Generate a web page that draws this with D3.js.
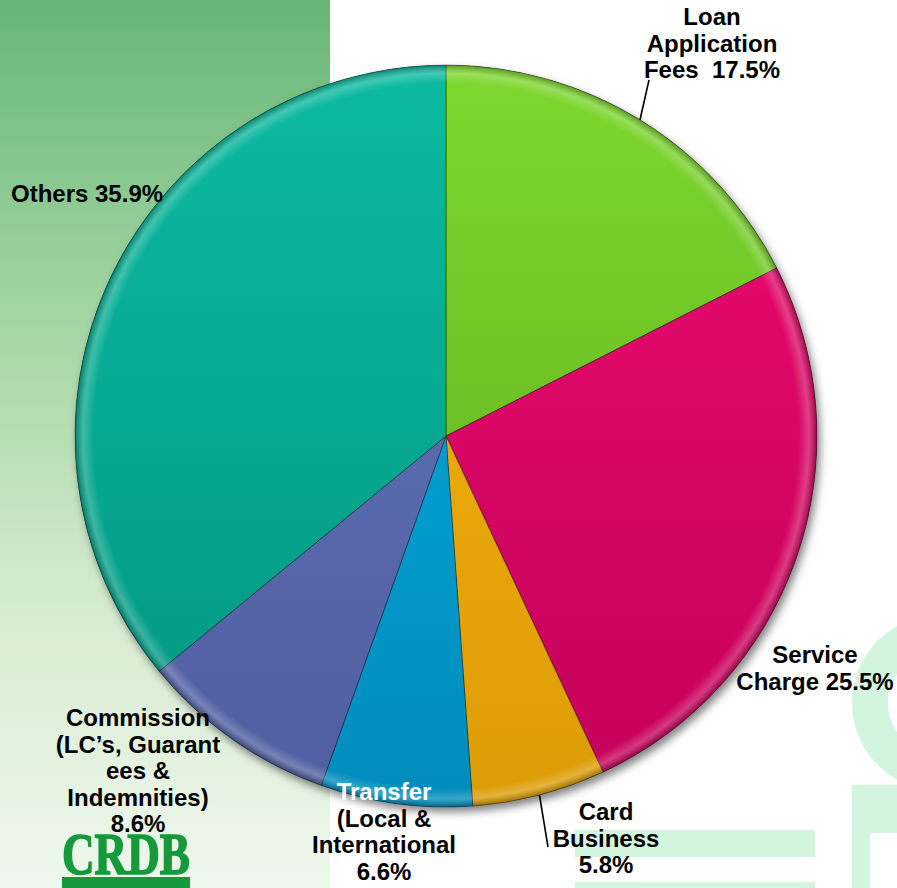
<!DOCTYPE html>
<html>
<head>
<meta charset="utf-8">
<script src="https://cdn.jsdelivr.net/npm/d3@7"></script>
<style>
  html, body { margin: 0; padding: 0; background: #ffffff; }
  svg { display: block; }
  text { font-family: "Liberation Sans", Arial, sans-serif; font-weight: bold; }
</style>
</head>
<body>
<svg id="chart" width="897" height="888"></svg>
<script>
// Fee income breakdown (share of total, %)
const categories = ["Loan Application Fees", "Service Charge", "Card Business",
  "Transfer (Local & International", "Commission (LC’s, Guarantees & Indemnities)", "Others"];
const values = [17.5, 25.5, 5.8, 6.6, 8.6, 35.9];
// how each category name wraps in its label; the percentage joins the last line
const labelLines = [
  ["Loan", "Application", "Fees  "],
  ["Service", "Charge "],
  ["Card", "Business", ""],
  ["Transfer", "(Local &", "International", ""],
  ["Commission", "(LC’s, Guarant", "ees &", "Indemnities)", ""],
  ["Others "]
];
const topColors = ["#7ed82e", "#ec0c70", "#f6b40e", "#08aee0", "#6676bc", "#0cbaa0"];
const bottomColors = ["#5ca81c", "#c4005a", "#dc9c06", "#008cbc", "#4e5ea0", "#029580"];

const svg = d3.select("#chart");
const W = 897, H = 888;
const cx = 446, cy = 436, R = 371;

const defs = svg.append("defs");

// left backdrop panel
const bg = defs.append("linearGradient").attr("id", "panel")
  .attr("x1", 0).attr("y1", 0).attr("x2", 0).attr("y2", 1);
bg.append("stop").attr("offset", "0%").attr("stop-color", "#66b676");
bg.append("stop").attr("offset", "35%").attr("stop-color", "#a2d5a2");
bg.append("stop").attr("offset", "70%").attr("stop-color", "#d8ecd2");
bg.append("stop").attr("offset", "100%").attr("stop-color", "#eef7ec");
svg.append("rect").attr("x", 0).attr("y", 0).attr("width", 330).attr("height", H)
  .attr("fill", "url(#panel)");

// pale watermark shapes at lower right
const wm = svg.append("g").attr("fill", "#d3f5de");
wm.append("path")
  .attr("d", d3.arc().innerRadius(52).outerRadius(88).startAngle(Math.PI * 0.98).endAngle(Math.PI * 2.02)())
  .attr("transform", "translate(940,703)");
wm.append("rect").attr("x", 575).attr("y", 830).attr("width", 240).attr("height", 27);
wm.append("rect").attr("x", 575).attr("y", 882).attr("width", 240).attr("height", 6);
wm.append("rect").attr("x", 852).attr("y", 785).attr("width", 45).attr("height", 48);
wm.append("rect").attr("x", 852).attr("y", 833).attr("width", 18).attr("height", 55);

// slice gradients
values.forEach((v, i) => {
  const g = defs.append("linearGradient").attr("id", "slice" + i)
    .attr("gradientUnits", "userSpaceOnUse")
    .attr("x1", 0).attr("y1", -R).attr("x2", 0).attr("y2", R);
  g.append("stop").attr("offset", "0%").attr("stop-color", topColors[i]);
  g.append("stop").attr("offset", "100%").attr("stop-color", bottomColors[i]);
});

// rim bevel overlay
const rim = defs.append("radialGradient").attr("id", "rim")
  .attr("gradientUnits", "userSpaceOnUse").attr("cx", 0).attr("cy", 0).attr("r", R);
rim.append("stop").attr("offset", "0%").attr("stop-color", "#fff").attr("stop-opacity", 0);
rim.append("stop").attr("offset", "95%").attr("stop-color", "#fff").attr("stop-opacity", 0);
rim.append("stop").attr("offset", "97.8%").attr("stop-color", "#fff").attr("stop-opacity", 0.22);
rim.append("stop").attr("offset", "100%").attr("stop-color", "#000").attr("stop-opacity", 0.28);

const shadow = defs.append("filter").attr("id", "shadow")
  .attr("x", "-10%").attr("y", "-10%").attr("width", "120%").attr("height", "120%");
shadow.append("feDropShadow").attr("dx", 3).attr("dy", 5).attr("stdDeviation", 4)
  .attr("flood-color", "#000").attr("flood-opacity", 0.5);

const pie = d3.pie().sort(null).value(d => d)(values);
const arc = d3.arc().innerRadius(0).outerRadius(R);

const pieG = svg.append("g").attr("transform", `translate(${cx},${cy})`);
pieG.append("circle").attr("r", R).attr("fill", "#333").attr("filter", "url(#shadow)");
pieG.selectAll("path.slice").data(pie).join("path")
  .attr("class", "slice")
  .attr("d", arc)
  .attr("fill", (d, i) => `url(#slice${i})`)
  .attr("stroke", "rgba(0,0,0,0.35)")
  .attr("stroke-width", 1);
pieG.append("circle").attr("r", R).attr("fill", "url(#rim)");

// leader lines from the rim at each slice's mid-angle
const leaders = [{ i: 0, x: 649, y: 80 }, { i: 2, x: 548, y: 847 }];
leaders.forEach(l => {
  const a = (pie[l.i].startAngle + pie[l.i].endAngle) / 2;
  svg.append("line")
    .attr("x1", cx + R * Math.sin(a)).attr("y1", cy - R * Math.cos(a))
    .attr("x2", l.x).attr("y2", l.y)
    .attr("stroke", "#000").attr("stroke-width", 1.6);
});

// bank logo
const logo = svg.append("g");
logo.append("text").attr("x", 62).attr("y", 874)
  .attr("textLength", 128).attr("lengthAdjust", "spacingAndGlyphs")
  .style("font-family", "'Liberation Serif', 'DejaVu Serif', serif")
  .style("font-weight", "bold").style("font-size", "60px")
  .attr("fill", "#149a3a").attr("stroke", "#149a3a").attr("stroke-width", 1.6)
  .text("CRDB");
logo.append("rect").attr("x", 62).attr("y", 877).attr("width", 128).attr("height", 11)
  .attr("fill", "#149a3a");

// data labels: anchor point of the first line, alignment
const labelPos = [
  { x: 712, y: 25, anchor: "middle" },
  { x: 815, y: 663, anchor: "middle" },
  { x: 606, y: 820, anchor: "middle" },
  { x: 384, y: 800, anchor: "middle" },
  { x: 138, y: 726, anchor: "middle" },
  { x: 11, y: 202, anchor: "start" }
];
const lineGap = 26.5;
const fmt = v => v.toFixed(1) + "%";

labelLines.forEach((lines, i) => {
  const p = labelPos[i];
  const t = svg.append("text")
    .attr("x", p.x).attr("y", p.y)
    .attr("text-anchor", p.anchor)
    .style("font-size", "24px")
    .attr("fill", "#000");
  lines.forEach((ln, k) => {
    const txt = k === lines.length - 1 ? ln + fmt(values[i]) : ln;
    t.append("tspan")
      .attr("x", p.x)
      .attr("y", p.y + k * lineGap)
      .attr("fill", i === 3 && k === 0 ? "#ffffff" : "#000")
      .attr("xml:space", "preserve")
      .style("white-space", "pre")
      .text(txt);
  });
});
</script>
</body>
</html>
